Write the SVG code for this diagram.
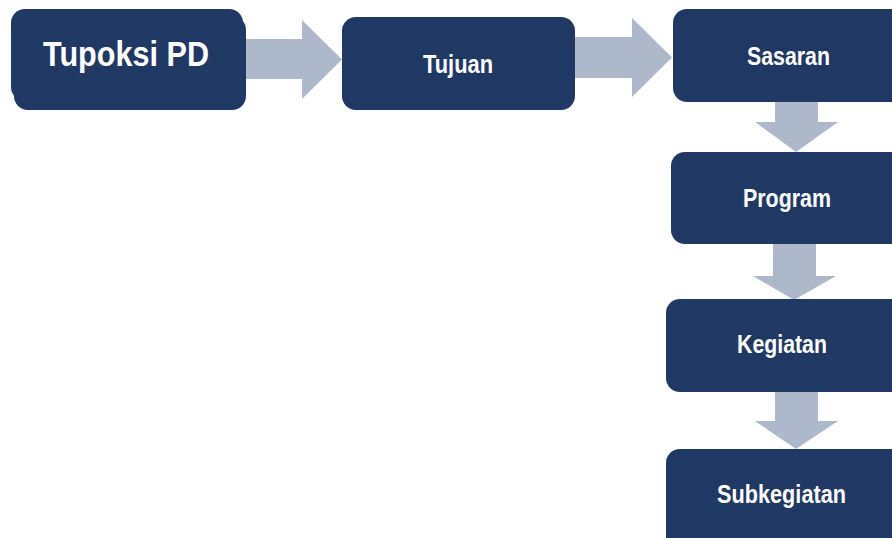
<svg xmlns="http://www.w3.org/2000/svg" width="892" height="538" viewBox="0 0 892 538">
<style>
.box{fill:#203864;}
.arr{fill:#ADB9CA;}
.lbl{fill:#FFFFFF;font-family:"Liberation Sans",Arial,sans-serif;font-weight:bold;font-size:26px;text-anchor:middle;}
</style>
<rect width="892" height="538" fill="#FFFFFF"/>
<g id="connectors">
<polygon class="arr" points="243,39 302,39 302,20 342,59.5 302,99 302,79 243,79"/>
<polygon class="arr" points="572,37 632,37 632,18 672,57.5 632,97 632,78 572,78"/>
<polygon class="arr" points="775,100 818,100 818,122 838,122 796,152 755,122 775,122"/>
<polygon class="arr" points="773,242 816,242 816,276 836,276 794,300 753,276 773,276"/>
<polygon class="arr" points="775,390 818,390 818,421 838,421 796,449 755,421 775,421"/>
</g>
<g id="node-tupoksi">
<rect class="box" x="11" y="9" width="232" height="92" rx="14"/>
<rect class="box" x="14" y="16" width="232" height="94" rx="14"/>
<text class="lbl" x="126" y="66" font-size="35" style="font-size:35px" textLength="166" lengthAdjust="spacingAndGlyphs">Tupoksi PD</text>
</g>
<g id="node-tujuan">
<rect class="box" x="342" y="17" width="233" height="93" rx="14"/>
<text class="lbl" x="458" y="73" textLength="70" lengthAdjust="spacingAndGlyphs">Tujuan</text>
</g>
<g id="node-sasaran">
<rect class="box" x="673" y="9" width="240" height="93" rx="14"/>
<text class="lbl" x="788.5" y="65" textLength="83" lengthAdjust="spacingAndGlyphs">Sasaran</text>
</g>
<g id="node-program">
<rect class="box" x="671" y="152" width="240" height="92" rx="14"/>
<text class="lbl" x="787" y="207" textLength="88" lengthAdjust="spacingAndGlyphs">Program</text>
</g>
<g id="node-kegiatan">
<rect class="box" x="666" y="299" width="245" height="93" rx="14"/>
<text class="lbl" x="782" y="353" textLength="90" lengthAdjust="spacingAndGlyphs">Kegiatan</text>
</g>
<g id="node-subkegiatan">
<rect class="box" x="666" y="449" width="245" height="110" rx="14"/>
<text class="lbl" x="781.5" y="503" textLength="129" lengthAdjust="spacingAndGlyphs">Subkegiatan</text>
</g>
</svg>
